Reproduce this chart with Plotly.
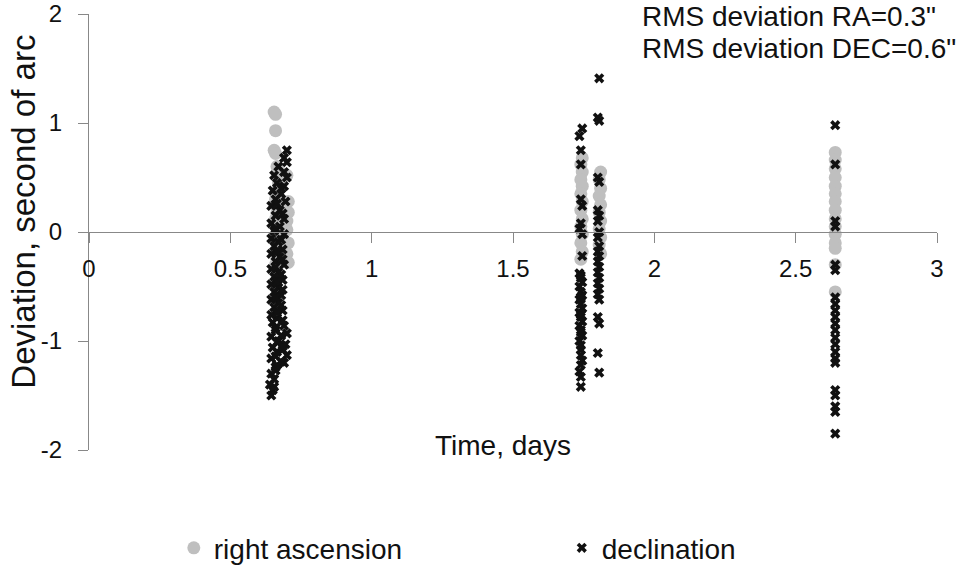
import plotly.graph_objects as go

# ---- data ----
ra_x_1 = [0.655, 0.660, 0.660, 0.655, 0.660, 0.665, 0.700, 0.675, 0.670, 0.665, 0.660, 0.670, 0.665, 0.705,
          0.660, 0.670, 0.665, 0.700, 0.660, 0.705, 0.700, 0.705, 0.670, 0.665, 0.660, 0.665, 0.670, 0.700, 0.705]
ra_y_1 = [1.10, 1.08, 0.93, 0.75, 0.72, 0.60, 0.52, 0.55, 0.45, 0.38, 0.30, 0.25, 0.18, 0.28,
          0.12, 0.05, 0.00, 0.02, -0.05, -0.10, -0.20, -0.28, -0.15, -0.25, -0.30, -0.40, -0.55, 0.10, 0.18]

ra_x_2 = [1.745, 1.740, 1.745, 1.740, 1.745, 1.740, 1.745, 1.740, 1.745, 1.740, 1.745, 1.740, 1.745, 1.740,
          1.810, 1.805, 1.810, 1.805, 1.810, 1.805, 1.810, 1.805, 1.810, 1.805, 1.810]
ra_y_2 = [0.68, 0.62, 0.55, 0.48, 0.42, 0.35, 0.28, 0.20, 0.12, 0.05, -0.02, -0.10, -0.18, -0.25,
          0.55, 0.48, 0.40, 0.33, 0.25, 0.18, 0.10, 0.03, -0.05, -0.12, -0.20]

ra_x_3 = [2.640, 2.640, 2.640, 2.640, 2.640, 2.640, 2.640, 2.640, 2.640, 2.640, 2.640, 2.640, 2.640, 2.640, 2.640]
ra_y_3 = [0.73, 0.66, 0.58, 0.50, 0.42, 0.35, 0.28, 0.20, 0.12, 0.05, -0.02, -0.10, -0.15, -0.30, -0.55]

dec_x_1 = [0.700, 0.690, 0.700, 0.670, 0.690, 0.655, 0.700, 0.665, 0.690, 0.650, 0.680, 0.660, 0.695, 0.645,
           0.675, 0.660, 0.690, 0.645, 0.675, 0.655, 0.690, 0.645, 0.670, 0.655, 0.685, 0.645, 0.675, 0.660,
           0.690, 0.645, 0.670, 0.655, 0.685, 0.645, 0.670, 0.655, 0.680, 0.645, 0.670, 0.655, 0.685, 0.645,
           0.665, 0.650, 0.690, 0.660, 0.700, 0.645, 0.670, 0.695, 0.650, 0.665, 0.700, 0.645, 0.690, 0.660,
           0.645, 0.655, 0.640, 0.650, 0.645]
dec_y_1 = [0.75, 0.68, 0.64, 0.60, 0.55, 0.52, 0.50, 0.45, 0.42, 0.38, 0.35, 0.30, 0.28, 0.24,
           0.20, 0.15, 0.12, 0.08, 0.05, 0.01, -0.02, -0.06, -0.09, -0.13, -0.16, -0.20, -0.23, -0.27,
           -0.30, -0.34, -0.37, -0.41, -0.44, -0.48, -0.51, -0.55, -0.58, -0.62, -0.65, -0.69, -0.72, -0.76,
           -0.79, -0.83, -0.86, -0.90, -0.93, -0.96, -1.00, -1.03, -1.06, -1.10, -1.13, -1.16, -1.20, -1.24,
           -1.30, -1.35, -1.40, -1.45, -1.50]
dec_x_1b = [0.680, 0.665, 0.685, 0.660, 0.680, 0.665, 0.685, 0.660, 0.680, 0.665, 0.685, 0.660, 0.680,
            0.665, 0.685, 0.660, 0.680, 0.665, 0.685, 0.660, 0.680, 0.665, 0.685, 0.660, 0.655]
dec_y_1b = [0.40, 0.26, 0.17, 0.03, -0.07, -0.18, -0.25, -0.32, -0.39, -0.46, -0.53, -0.60, -0.67,
            -0.74, -0.81, -0.88, -0.95, -1.01, -1.08, -1.14, -1.19, -1.22, -1.05, -1.27, -1.42]

dec_x_2 = [1.745, 1.735, 1.740, 1.740, 1.740, 1.745, 1.740, 1.735, 1.745, 1.745, 1.735, 1.740, 1.745, 1.735,
           1.740, 1.745, 1.735, 1.740, 1.745, 1.735, 1.740, 1.745, 1.735, 1.740, 1.745, 1.735, 1.740, 1.745,
           1.735, 1.740,
           1.805, 1.800, 1.805, 1.800, 1.805, 1.800, 1.805, 1.800, 1.805, 1.800, 1.805, 1.800, 1.805, 1.800,
           1.805, 1.800, 1.805, 1.800, 1.805, 1.800, 1.805, 1.800, 1.805, 1.800, 1.805]
dec_y_2 = [0.95, 0.88, 0.75, 0.62, 0.30, 0.24, 0.08, 0.03, -0.02, -0.22, -0.38, -0.42, -0.46, -0.50,
           -0.55, -0.58, -0.62, -0.66, -0.70, -0.74, -0.78, -0.82, -0.86, -0.90, -0.95, -1.00, -1.08, -1.18,
           -1.28, -1.42,
           1.41, 1.05, 1.02, 0.50, 0.46, 0.20, 0.15, 0.10, 0.00, -0.05, -0.13, -0.18, -0.22, -0.27,
           -0.32, -0.37, -0.42, -0.47, -0.52, -0.57, -0.62, -0.78, -0.84, -1.11, -1.29]
dec_x_2b = [1.740, 1.740, 1.740, 1.740, 1.740, 1.740, 1.740, 1.740]
dec_y_2b = [-0.40, -0.60, -0.76, -0.92, -1.04, -1.13, -1.22, -1.33]

dec_x_3 = [2.640, 2.640, 2.640, 2.640, 2.640, 2.640, 2.640, 2.640, 2.640, 2.640, 2.640, 2.640, 2.640, 2.640,
           2.640, 2.640, 2.640, 2.640, 2.640, 2.640, 2.640, 2.640]
dec_y_3 = [0.98, 0.62, 0.10, 0.05, -0.30, -0.35, -0.60, -0.66, -0.72, -0.78, -0.84, -0.90, -0.97, -1.03,
           -1.10, -1.16, -1.20, -1.45, -1.50, -1.60, -1.65, -1.85]

x_ticks = [0, 0.5, 1, 1.5, 2, 2.5, 3]
x_tick_text = ["0", "0.5", "1", "1.5", "2", "2.5", "3"]
y_ticks = [-2, -1, 0, 1, 2]
y_tick_text = ["-2", "-1", "0", "1", "2"]

FONT = "Liberation Sans, Arial, sans-serif"
TXT = "#111111"
AX = "#888888"

ra_x = ra_x_1 + ra_x_2 + ra_x_3
ra_y = ra_y_1 + ra_y_2 + ra_y_3
dec_x = dec_x_1 + dec_x_1b + dec_x_2 + dec_x_2b + dec_x_3
dec_y = dec_y_1 + dec_y_1b + dec_y_2 + dec_y_2b + dec_y_3

fig = go.Figure()
fig.add_trace(go.Scatter(x=ra_x, y=ra_y, mode="markers", name="right ascension",
                         marker=dict(symbol="circle", size=13, color="#bfbfbf", line=dict(width=0))))
fig.add_trace(go.Scatter(x=dec_x, y=dec_y, mode="markers", name="declination",
                         marker=dict(symbol="x", size=9, color="#111111", line=dict(width=0))))

fig.update_layout(
    width=971, height=569,
    margin=dict(l=89, r=34, t=14, b=119, autoexpand=False),
    paper_bgcolor="white", plot_bgcolor="white",
    font=dict(family=FONT, color=TXT),
    showlegend=True,
    legend=dict(orientation="h", x=0.10, xanchor="left", y=-0.225, yanchor="middle",
                font=dict(size=28, family=FONT, color=TXT), entrywidth=343, entrywidthmode="pixels",
                bgcolor="rgba(0,0,0,0)"),
    xaxis=dict(range=[0, 3], tickvals=x_ticks, ticktext=x_tick_text, anchor="free", position=0.5,
               showline=True, linecolor=AX, linewidth=1, ticks="outside", ticklen=10, tickcolor=AX,
               showgrid=False, zeroline=False, ticklabelstandoff=5,
               tickfont=dict(size=24, family=FONT, color=TXT)),
    yaxis=dict(range=[-2, 2], tickvals=y_ticks, ticktext=y_tick_text,
               showline=True, linecolor=AX, linewidth=1, ticks="outside", ticklen=10, tickcolor=AX,
               showgrid=False, zeroline=False, ticklabelstandoff=11,
               tickfont=dict(size=24, family=FONT, color=TXT)),
    xaxis2=dict(range=[0, 3], tickvals=x_ticks, overlaying="x", anchor="free", position=0.5,
                ticks="inside", ticklen=6, tickcolor=AX, showticklabels=False, showgrid=False,
                zeroline=False, showline=False),
    yaxis2=dict(range=[-2, 2], tickvals=y_ticks, overlaying="y", side="left",
                ticks="inside", ticklen=10, tickcolor=AX, showticklabels=False, showgrid=False,
                zeroline=False, showline=False),
    annotations=[
        dict(text="Time, days", x=0.488, y=0.011, xref="paper", yref="paper", showarrow=False,
             xanchor="center", yanchor="middle", font=dict(size=28, family=FONT, color=TXT)),
        dict(text="Deviation, second of arc", x=-0.077, y=0.546, xref="paper", yref="paper",
             showarrow=False, textangle=-90, xanchor="center", yanchor="middle",
             font=dict(size=33, family=FONT, color=TXT)),
        dict(text="RMS deviation RA=0.3\"", x=0.65, y=0.995, xref="paper", yref="paper",
             showarrow=False, xanchor="left", yanchor="middle", font=dict(size=28, family=FONT, color=TXT)),
        dict(text="RMS deviation DEC=0.6\"", x=0.65, y=0.92, xref="paper", yref="paper",
             showarrow=False, xanchor="left", yanchor="middle", font=dict(size=28, family=FONT, color=TXT)),
    ],
)

fig.write_html("out.html")
